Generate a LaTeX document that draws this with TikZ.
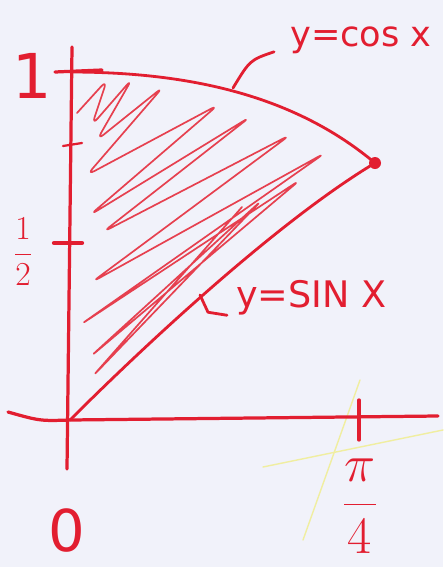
\documentclass[tikz,border=0pt]{standalone}
\usepackage{fontspec}
\setmainfont{DejaVu Sans}
\definecolor{pen}{RGB}{226,30,48}
\definecolor{paper}{RGB}{241,242,250}
\definecolor{marker}{RGB}{240,238,160}

\begin{document}
\begin{tikzpicture}[x=0.025cm,y=-0.025cm,line cap=round,line join=round,
    axis/.style={pen,line width=2.3pt},
    curve/.style={pen,line width=2pt},
    hatch/.style={pen!85,line width=1.2pt,rounded corners=6pt},
    lead/.style={pen,line width=2pt},
    lbl/.style={pen,inner sep=0pt}]
  \fill[paper] (0,0) rectangle (443,567);
  \useasboundingbox (0,0) rectangle (443,567);
  %--- marker strokes on the paper ---
  \draw[marker,line width=1pt] (303,540) -- (360,380);
  \draw[marker,line width=1pt] (263,467) -- (443,430);
  %--- axes ---
  \draw[axis] (8,412) .. controls (40,421) .. (70,420) -- (438,416);
  \draw[axis] (72,47) -- (67,469);
  %--- ticks ---
  \draw[axis] (55,72) -- (102,70);
  \draw[axis,line width=1.6pt] (63,146) -- (82,143);
  \draw[axis,line width=3pt] (54,243) -- (82,243);
  \draw[axis] (359,400) -- (359,440);
  %--- shading between the curves ---
  \draw[hatch] (77,113) -- (107,80) -- (92,125) -- (132,79) -- (97,140)
    -- (163,87) -- (87,175) -- (218,105) -- (90,215) -- (250,117)
    -- (103,232) -- (290,135) -- (92,282) -- (325,153) -- (80,325)
    -- (300,180) -- (90,357) -- (262,200) -- (92,377) -- (242,207);
  %--- curves ---
  \coordinate (O) at (70,420);
  \coordinate (P) at (375,163);
  \draw[curve] (70,72) .. controls (200,72) and (300,100) .. (P);
  \draw[curve] (O) .. controls (150,340) and (280,220) .. (P);
  \fill[pen] (P) circle (6);
  %--- labels ---
  \node[lbl,font=\fontsize{44}{44}\selectfont] (one) at (32,76) {1};
  \node[lbl,font=\fontsize{20}{20}\selectfont] (half) at (23,252) {\scalebox{1.15}{$\displaystyle\frac{1}{2}$}};
  \node[lbl,font=\fontsize{41}{41}\selectfont] (zero) at (67,531) {0};
  \node[lbl,font=\fontsize{24}{24}\selectfont] (quarter) at (360,506) {\scalebox{1.5}{$\displaystyle\frac{\pi}{4}$}};
  \node[lbl,font=\fontsize{25}{25}\selectfont,anchor=base west] (cosl) at (290,46) {y=cos x};
  \node[lbl,font=\fontsize{26}{26}\selectfont,anchor=base west] (sinl) at (236,307) {y=SIN X};
  %--- leaders ---
  \coordinate (cospt) at (233,88);
  \coordinate (sinpt) at (200,295);
  \draw[lead] ([shift={(-16,12)}]cosl.west) .. controls (250,60) .. (cospt);
  \draw[lead] ([shift={(-9,18)}]sinl.west) -- ++(-19,-3) -- (sinpt);
\end{tikzpicture}
\end{document}
